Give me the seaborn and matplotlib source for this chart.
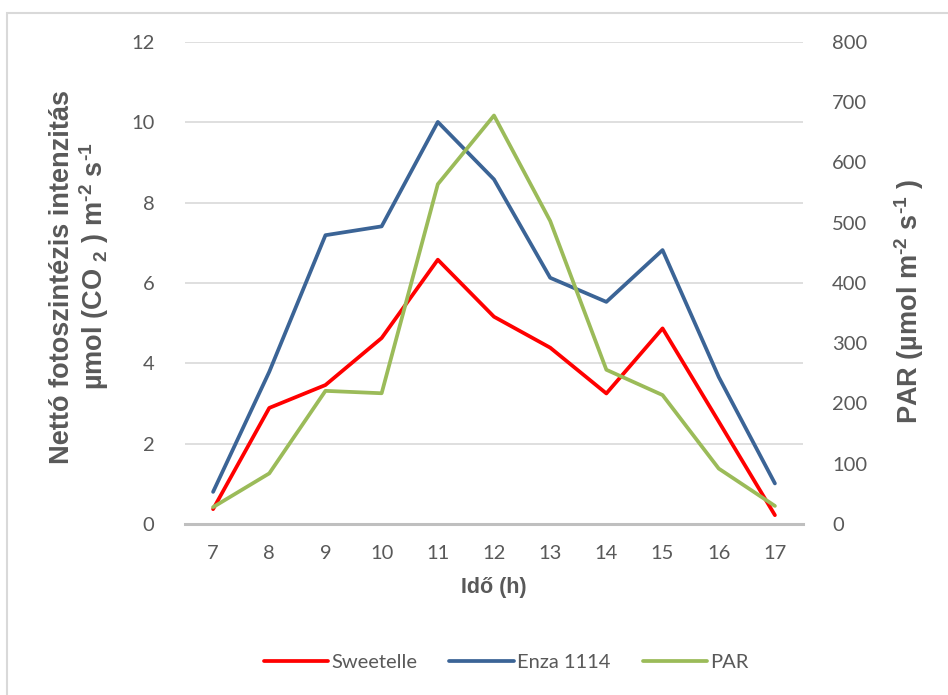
import matplotlib
matplotlib.use("Agg")
import matplotlib.pyplot as plt
import seaborn as sns
import pandas as pd
from matplotlib.patches import Rectangle
from matplotlib.lines import Line2D

# Hours of measurement
hours = [7, 8, 9, 10, 11, 12, 13, 14, 15, 16, 17]
# Net photosynthesis, µmol CO2 m-2 s-1
sweetelle = [0.37, 2.89, 3.46, 4.63, 6.58, 5.16, 4.39, 3.25, 4.87, 2.55, 0.22]
enza_1114 = [0.80, 3.79, 7.19, 7.41, 10.01, 8.58, 6.13, 5.53, 6.82, 3.66, 1.01]
# Photosynthetically active radiation, µmol m-2 s-1
par = [28, 84, 221, 217, 564, 678, 503, 256, 214, 92, 30]

left_ticks = [0, 2, 4, 6, 8, 10, 12]
right_ticks = [0, 100, 200, 300, 400, 500, 600, 700, 800]

sns.set_theme(style="white")
plt.rcParams["font.family"] = ["Lato", "DejaVu Sans"]
plt.rcParams["mathtext.fontset"] = "custom"
plt.rcParams["mathtext.rm"] = "Liberation Sans:bold"
plt.rcParams["mathtext.it"] = "Liberation Sans:bold"
plt.rcParams["mathtext.bf"] = "Liberation Sans:bold"

text_gray = "#595959"
red = "#FF0000"
blue = "#3B6496"
green = "#9BBB59"
HY = "\u2010"  # short hyphen used in the unit exponents

df = pd.DataFrame({"idx": range(len(hours)), "hour": hours,
                   "Sweetelle": sweetelle, "Enza 1114": enza_1114, "PAR": par})

fig = plt.figure(figsize=(9.48, 6.95), dpi=100)
W, H = 948, 695
ax = fig.add_axes([185 / W, 1 - 524 / H, (803 - 185) / W, (524 - 42) / H])
ax2 = ax.twinx()

sns.lineplot(data=df, x="idx", y="Sweetelle", ax=ax, color=red, lw=2.7, zorder=3)
sns.lineplot(data=df, x="idx", y="Enza 1114", ax=ax, color=blue, lw=2.7, zorder=3)
sns.lineplot(data=df, x="idx", y="PAR", ax=ax2, color=green, lw=2.7, zorder=3)

ax.set_xlim(-0.5, len(hours) - 0.5)
ax.set_ylim(0, 12)
ax2.set_ylim(0, 800)
ax.set_yticks(left_ticks)
ax2.set_yticks(right_ticks)
ax.set_xticks(range(len(hours)))
ax.set_xticklabels([str(h) for h in hours])

ax.yaxis.grid(True, color="#D9D9D9", lw=1.2)
ax.set_axisbelow(True)
for a in (ax, ax2):
    for s in a.spines.values():
        s.set_visible(False)
    a.tick_params(length=0, labelsize=14.5, colors=text_gray)
ax.spines["bottom"].set_visible(True)
ax.spines["bottom"].set_color("#BFBFBF")
ax.spines["bottom"].set_linewidth(2.2)
ax.tick_params(axis="y", pad=22)
ax.tick_params(axis="x", pad=15)
ax2.tick_params(axis="y", pad=21)

ax.set_xlabel("Idő (h)", fontsize=15.5, fontweight="bold", color=text_gray,
              family="Liberation Sans", labelpad=11)
ax.set_ylabel("")
ax2.set_ylabel("")

label_kw = dict(rotation=90, ha="center", va="center", fontsize=19.5,
                fontweight="bold", color=text_gray, family="Liberation Sans")
fig.text(62 / W, 1 - 277 / H, "Nettó fotoszintézis intenzitás", **label_kw)
fig.text(94 / W, 1 - 266 / H,
         rf"µmol (CO $_{{2}}$ ) m$^{{{HY}2}}$ s$^{{{HY}1}}$", **label_kw)
fig.text(909 / W, 1 - 302 / H,
         rf"PAR (µmol m$^{{{HY}2}}$ s$^{{{HY}1}}$ )", **label_kw)

handles = [Line2D([0], [0], color=red, lw=2.7),
           Line2D([0], [0], color=blue, lw=2.7),
           Line2D([0], [0], color=green, lw=2.7)]
leg = fig.legend(handles, ["Sweetelle", "Enza 1114", "PAR"], loc="center",
                 bbox_to_anchor=(506 / W, 1 - 662 / H), ncol=3, frameon=False,
                 fontsize=14.5, handlelength=3.2, handletextpad=0.15,
                 columnspacing=1.6)
for t in leg.get_texts():
    t.set_color(text_gray)

fig.patches.append(Rectangle((7 / W, -0.01), 1.0, 1 - 13 / H + 0.01,
                             transform=fig.transFigure, fill=False,
                             edgecolor="#D9D9D9", lw=1.5))

fig.savefig("out.png", dpi=100, facecolor="white")
